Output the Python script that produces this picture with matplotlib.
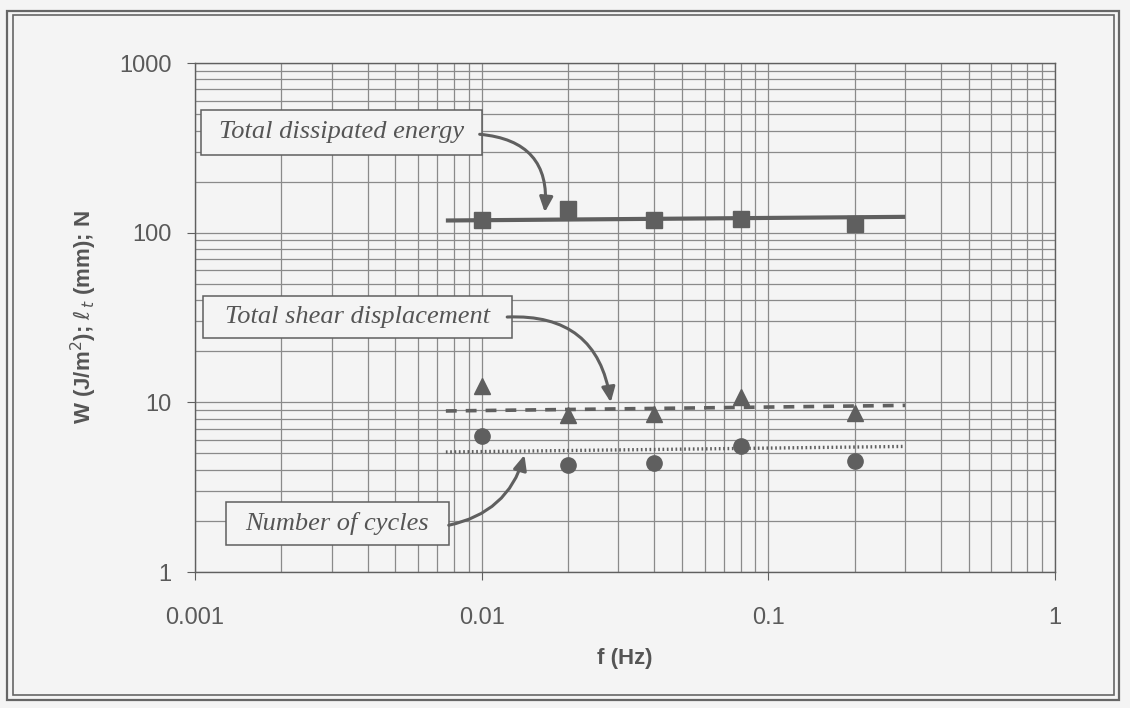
import matplotlib
matplotlib.use("Agg")
import matplotlib.pyplot as plt
from matplotlib.patches import Rectangle
from matplotlib.ticker import LogLocator, FixedLocator, NullFormatter

# ---- data ----
freq = [0.01, 0.02, 0.04, 0.08, 0.2]
energy = [118, 137, 118, 121, 112]          # W (J/m^2)
shear_disp = [12.5, 8.4, 8.5, 10.8, 8.7]     # l_t (mm)
cycles = [6.3, 4.3, 4.4, 5.5, 4.5]           # N

fit_f = [0.0075, 0.3]
energy_fit = [118, 124]
shear_fit = [8.9, 9.6]
cycles_fit = [5.1, 5.5]

xticks = [0.001, 0.01, 0.1, 1]
xticklabels = ["0.001", "0.01", "0.1", "1"]
yticks = [1, 10, 100, 1000]
yticklabels = ["1", "10", "100", "1000"]

ann_labels = ["Total dissipated energy", "Total shear displacement", "Number of cycles"]

# ---- style ----
bg = "#f4f4f4"
ink = "#5f5f5f"
grid_c = "#8a8a8a"

plt.rcParams["font.family"] = ["Liberation Sans", "DejaVu Sans"]

fig = plt.figure(figsize=(11.3, 7.08), dpi=100, facecolor=bg)
ax = fig.add_axes([0.1726, 0.192, 0.761, 0.719], facecolor=bg)
ax.set_xscale("log")
ax.set_yscale("log")
ax.set_xlim(0.001, 1)
ax.set_ylim(1, 1000)

ax.xaxis.set_major_locator(FixedLocator(xticks))
ax.set_xticklabels(xticklabels)
ax.yaxis.set_major_locator(FixedLocator(yticks))
ax.set_yticklabels(yticklabels)
ax.xaxis.set_minor_locator(LogLocator(base=10, subs=range(2, 10)))
ax.yaxis.set_minor_locator(LogLocator(base=10, subs=range(2, 10)))
ax.xaxis.set_minor_formatter(NullFormatter())
ax.yaxis.set_minor_formatter(NullFormatter())

ax.grid(True, which="both", color=grid_c, linewidth=0.9)
ax.set_axisbelow(True)
for s in ax.spines.values():
    s.set_color(ink)
    s.set_linewidth(1.0)
ax.tick_params(which="major", direction="out", length=6, color=ink,
               labelcolor="#5a5a5a", labelsize=17)
ax.tick_params(axis="x", which="major", pad=19)
ax.tick_params(axis="y", which="major", pad=11)
ax.tick_params(which="minor", length=0)

ax.set_xlabel("f (Hz)", fontsize=16, fontweight="bold", color="#555555", labelpad=14)
ax.set_ylabel(r"W (J/m$^{2}$); $\ell_{\,t}$ (mm); N", fontsize=16,
              fontweight="bold", color="#555555", labelpad=14)

# fit lines
ax.plot(fit_f, energy_fit, color=ink, lw=3.0, solid_capstyle="butt", zorder=3)
ax.plot(fit_f, shear_fit, color=ink, lw=2.6, ls=(0, (3, 2.5)), zorder=3)
ax.plot(fit_f, cycles_fit, color=ink, lw=2.4, ls=(0, (0.5, 0.8)), zorder=3)

# data markers
ax.plot(freq, energy, ls="none", marker="s", ms=11, color=ink, zorder=4)
ax.plot(freq, shear_disp, ls="none", marker="^", ms=11, color=ink, zorder=4)
ax.plot(freq, cycles, ls="none", marker="o", ms=11, color=ink, zorder=4)

# annotation boxes (axes fraction) and arrows
ann_boxes = [(0.007, 0.819, 0.334, 0.908),
             (0.009, 0.460, 0.369, 0.542),
             (0.036, 0.053, 0.295, 0.1375)]
ann_tail = [(0.331, 0.860), (0.363, 0.501), (0.295, 0.092)]
ann_tip = [(0.0166, 132), (0.0282, 10.0), (0.0141, 4.9)]
ann_rad = [-0.5, -0.45, 0.3]

for lab, box, tail, tip, rad in zip(ann_labels, ann_boxes, ann_tail, ann_tip, ann_rad):
    x0, y0, x1, y1 = box
    ax.add_patch(Rectangle((x0, y0), x1 - x0, y1 - y0, transform=ax.transAxes,
                           fc=bg, ec=ink, lw=1.1, zorder=6))
    ax.text((x0 + x1) / 2, (y0 + y1) / 2, lab, transform=ax.transAxes,
            family=["Liberation Serif", "DejaVu Serif"], style="italic",
            fontsize=19, color="#555555", ha="center", va="center", zorder=7)
    ax.annotate("", xy=tip, xycoords="data", xytext=tail, textcoords="axes fraction",
                zorder=8,
                arrowprops=dict(arrowstyle="-|>,head_length=0.9,head_width=0.4",
                                color=ink, lw=2.2, shrinkA=0, shrinkB=0,
                                connectionstyle=f"arc3,rad={rad}"))

# outer double frame
fig.patches.append(Rectangle((0.006, 0.011), 0.984, 0.974, transform=fig.transFigure,
                             fill=False, ec="#666666", lw=1.6))
fig.patches.append(Rectangle((0.0115, 0.019), 0.974, 0.96, transform=fig.transFigure,
                             fill=False, ec="#666666", lw=1.2))

fig.savefig("out.png", dpi=100, facecolor=bg)
